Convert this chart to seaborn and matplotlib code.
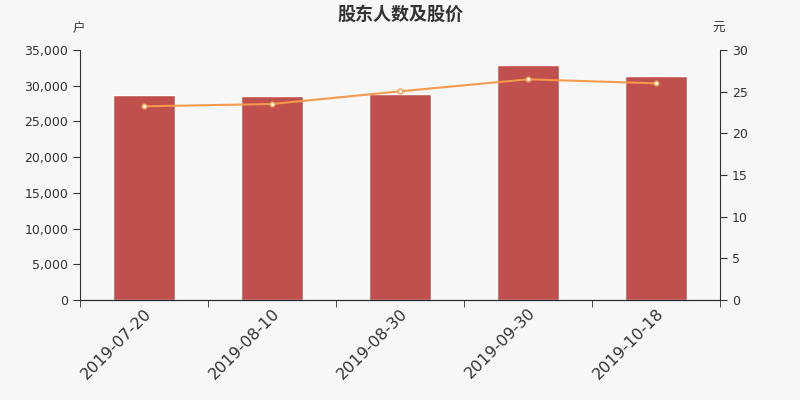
import matplotlib
matplotlib.use("Agg")
import matplotlib.pyplot as plt
import seaborn as sns
import numpy as np
from matplotlib.ticker import FuncFormatter, FixedLocator

dates = ["2019-07-20", "2019-08-10", "2019-08-30", "2019-09-30", "2019-10-18"]
holders = [28740, 28600, 28880, 32900, 31300]
price = [23.24, 23.52, 25.04, 26.48, 26.0]

sns.set_style("ticks")
plt.rcParams['font.family'] = ['DejaVu Sans', 'Noto Sans CJK SC']
bg = "#f7f7f7"
txt = "#333333"

fig = plt.figure(figsize=(8, 4), dpi=100, facecolor=bg)
ax = fig.add_axes([0.1, 0.25, 0.8, 0.625], facecolor=bg)

sns.barplot(x=dates, y=holders, color="#c0504d", saturation=1, width=0.48, ax=ax)
ax.set_xlim(-0.5, len(dates) - 0.5)
ax.set_ylim(0, 35000)
ax.set_yticks(range(0, 35001, 5000))
ax.yaxis.set_major_formatter(FuncFormatter(lambda v, p: f"{int(v):,}"))
ax.set_xticks(range(len(dates)))
ax.set_xticklabels(dates, rotation=45, ha="right", rotation_mode="anchor", fontsize=11.5, color=txt)
ax.tick_params(axis="x", which="major", length=0, pad=4)
ax.xaxis.set_minor_locator(FixedLocator(np.arange(-0.5, len(dates), 1.0)))
ax.tick_params(axis="x", which="minor", length=5, color=txt)
ax.tick_params(axis="y", labelsize=9, colors=txt, length=5)
ax.spines["top"].set_visible(False)
ax.spines["right"].set_visible(False)
for s in ["left", "bottom"]:
    ax.spines[s].set_color(txt)

ax2 = ax.twinx()
sns.lineplot(x=list(range(len(dates))), y=price, ax=ax2, color="#f5994a", linewidth=1.5,
             marker="o", markersize=3.5, markerfacecolor="white", markeredgecolor="#f5994a",
             markeredgewidth=1)
ax2.set_ylim(0, 30)
ax2.set_yticks(range(0, 31, 5))
ax2.tick_params(axis="y", labelsize=9, colors=txt, length=5)
ax2.spines["top"].set_visible(False)
ax2.spines["left"].set_visible(False)
ax2.spines["right"].set_color(txt)
ax2.set_xlim(-0.5, len(dates) - 0.5)

fig.text(0.5, 0.965, "股东人数及股价", ha="center", va="center", fontsize=13, fontweight="bold", color=txt,
         family=['Noto Sans CJK SC', 'DejaVu Sans'])
fig.text(0.098, 0.928, "户", ha="center", va="center", fontsize=9, color=txt,
         family=['Noto Sans CJK SC', 'DejaVu Sans'])
fig.text(0.898, 0.928, "元", ha="center", va="center", fontsize=9, color=txt,
         family=['Noto Sans CJK SC', 'DejaVu Sans'])

fig.savefig("out.png", dpi=100, facecolor=bg)
